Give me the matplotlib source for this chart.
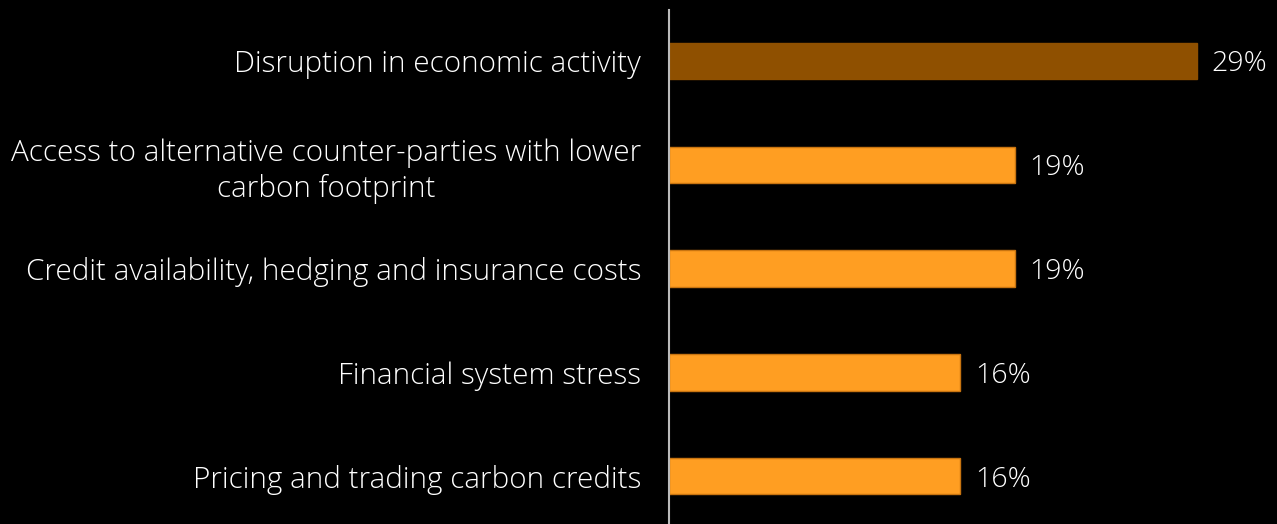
import matplotlib.pyplot as plt

categories = [
    'Disruption in economic activity',
    'Access to alternative counter-parties with lower\ncarbon footprint',
    'Credit availability, hedging and insurance costs',
    'Financial system stress',
    'Pricing and trading carbon credits',
]
values = [29, 19, 19, 16, 16]
bar_colors = ['#8f5000', '#ff9e22', '#ff9e22', '#ff9e22', '#ff9e22']
edge_colors = ['#8f5000', '#c87410', '#c87410', '#c87410', '#c87410']

plt.rcParams['font.family'] = ['Open Sans', 'DejaVu Sans']
plt.rcParams['font.weight'] = 'light'

fig = plt.figure(figsize=(12.77, 5.24), dpi=100)
fig.patch.set_facecolor('black')
ax = fig.add_axes([669 / 1277, 0, 1 - 669 / 1277, 1 - 10 / 524])
ax.set_facecolor('black')

ypos = list(range(len(categories)))
ax.barh(ypos, values, height=0.35, color=bar_colors, edgecolor=edge_colors, linewidth=1)

for y, v in zip(ypos, values):
    ax.text(v + 0.8, y, f'{v}%', va='center_baseline', ha='left', color='white', fontsize=20.5)

ax.set_xlim(0, 608 / 18.2)
ax.set_ylim(4.46, -0.49)
ax.set_yticks(ypos)
ax.set_yticklabels(categories, color='white', fontsize=21.3)
for lbl in ax.get_yticklabels():
    lbl.set_multialignment('center')
    lbl.set_linespacing(1.25)
ax.tick_params(axis='y', length=0, pad=20)
ax.set_xticks([])

for s in ['top', 'right', 'bottom']:
    ax.spines[s].set_visible(False)
ax.spines['left'].set_color('#bbbbbb')
ax.spines['left'].set_linewidth(1.5)

fig.savefig('out.png', dpi=100, facecolor='black')
